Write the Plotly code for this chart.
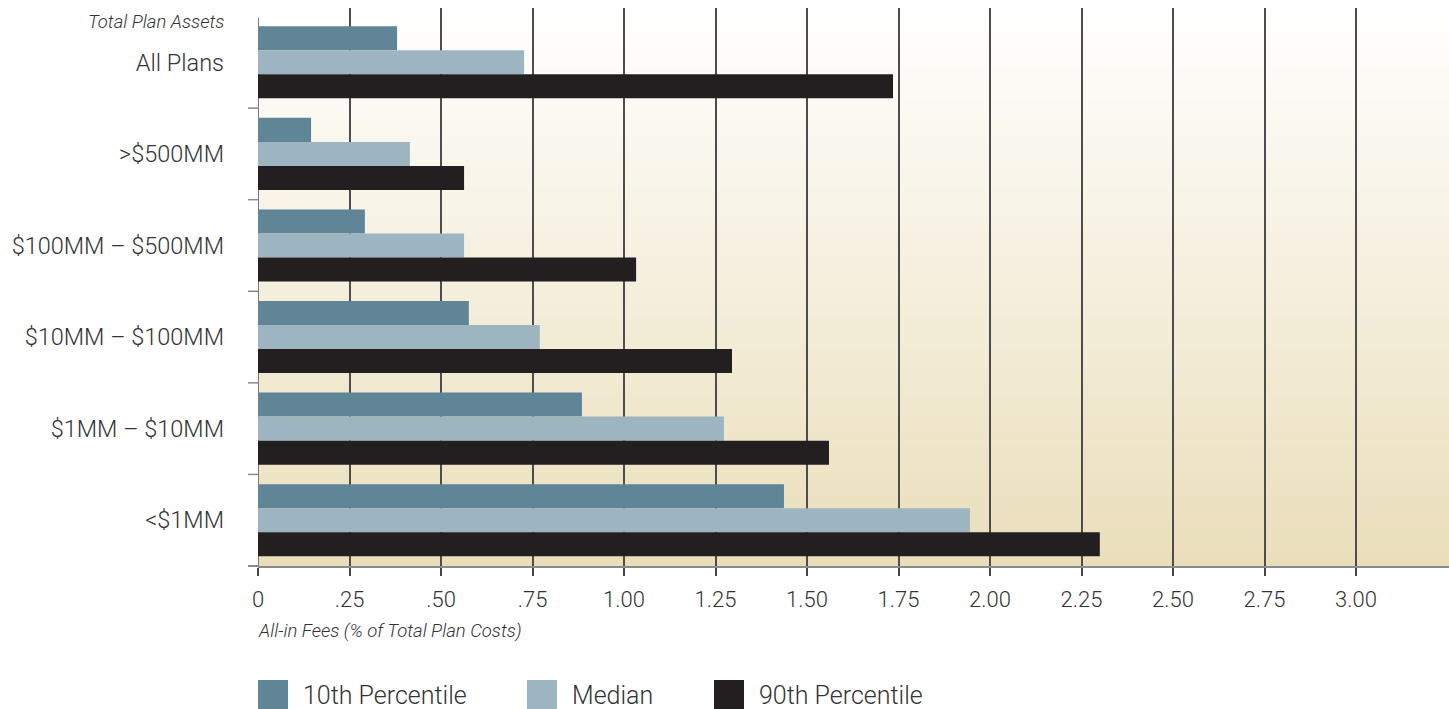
import plotly.graph_objects as go

# Plan-size groups (top to bottom) and fee percentiles (% of total plan costs)
categories = ["All Plans", ">$500MM", "$100MM – $500MM", "$10MM – $100MM", "$1MM – $10MM", "<$1MM"]
series_names = ["10th Percentile", "Median", "90th Percentile"]
p10 = [0.38, 0.145, 0.292, 0.576, 0.885, 1.437]
median = [0.727, 0.415, 0.563, 0.77, 1.273, 1.945]
p90 = [1.735, 0.563, 1.033, 1.295, 1.56, 2.30]
tick_vals = [0, 0.25, 0.5, 0.75, 1.0, 1.25, 1.5, 1.75, 2.0, 2.25, 2.5, 2.75, 3.0]
tick_text = ["0", ".25", ".50", ".75", "1.00", "1.25", "1.50", "1.75", "2.00", "2.25", "2.50", "2.75", "3.00"]

colors = ["#5f8597", "#9db5c1", "#231f20"]
values = [p10, median, p90]

FONT = "Roboto"
TEXT = "#333333"

W, H = 1449, 709
ML, MR, MT, MB = 258, 0, 8, 143
plot_w = W - ML - MR
plot_h = H - MT - MB

fig = go.Figure()
for name, vals, col in zip(series_names, values, colors):
    fig.add_trace(go.Bar(
        y=categories, x=vals, name=name, orientation="h",
        marker=dict(color=col, line=dict(width=0)),
        showlegend=False,
    ))

# vertical gradient background of the plotting area: white at top, sand at bottom
shapes = []
n_steps = 140
top_rgb = (255, 255, 255)
bot_rgb = (234, 222, 186)
for i in range(n_steps):
    f = (i + 0.5) / n_steps
    c = tuple(round(top_rgb[k] + (bot_rgb[k] - top_rgb[k]) * f) for k in range(3))
    shapes.append(dict(
        type="rect", xref="x domain", yref="y domain",
        x0=0, x1=1, y0=1 - (i + 1) / n_steps, y1=1 - i / n_steps + 0.002,
        fillcolor="rgb(%d,%d,%d)" % c, line=dict(width=0), layer="below",
    ))

# gridline at zero, starting just above the first group
shapes.append(dict(type="line", xref="x", yref="y domain",
                   x0=0, x1=0, y0=0, y1=1 - 10 / plot_h,
                   line=dict(color="#7a7a7a", width=2), layer="below"))

# short extension of the baseline to the left of zero
shapes.append(dict(type="line", xref="paper", yref="y domain",
                   x0=-10 / plot_w, x1=0, y0=0, y1=0,
                   line=dict(color="#8a8a8a", width=2), layer="above"))

# tick marks between plan-size groups
for i in range(len(categories) - 1):
    shapes.append(dict(type="line", xref="paper", yref="y",
                       x0=-10 / plot_w, x1=0, y0=i + 0.5, y1=i + 0.5,
                       line=dict(color="#8a8a8a", width=1.5), layer="above"))

# legend: swatches and labels along the bottom edge
annotations = []
legend_x = [258, 527, 714]
for lx, name, col in zip(legend_x, series_names, colors):
    x0 = (lx - ML) / plot_w
    x1 = (lx + 30 - ML) / plot_w
    y_top = -(680 - (H - MB)) / plot_h
    y_bot = -(710 - (H - MB)) / plot_h
    shapes.append(dict(type="rect", xref="paper", yref="paper",
                       x0=x0, x1=x1, y0=y_bot, y1=y_top,
                       fillcolor=col, line=dict(width=0)))
    annotations.append(dict(
        text=name, xref="paper", yref="paper",
        x=(lx + 43 - ML) / plot_w, y=-(695 - (H - MB)) / plot_h,
        xanchor="left", yanchor="middle", showarrow=False,
        font=dict(family=FONT, size=25, color=TEXT, weight=300),
    ))

annotations.append(dict(
    text="<i>Total Plan Assets</i>", xref="paper", yref="paper",
    x=(226 - ML) / plot_w, y=1 - (22 - MT) / plot_h,
    xanchor="right", yanchor="middle", showarrow=False,
    font=dict(family=FONT, size=18.5, color=TEXT, weight=300),
))
annotations.append(dict(
    text="<i>All-in Fees (% of Total Plan Costs)</i>", xref="paper", yref="paper",
    x=-2 / plot_w, y=-(631 - (H - MB)) / plot_h,
    xanchor="left", yanchor="middle", showarrow=False,
    font=dict(family=FONT, size=18.5, color=TEXT, weight=300),
))

x_max = 3.254
fig.update_layout(
    width=W, height=H,
    margin=dict(l=ML, r=MR, t=MT, b=MB, pad=0),
    paper_bgcolor="white", plot_bgcolor="rgba(0,0,0,0)",
    barmode="group", bargap=0.213, bargroupgap=0,
    shapes=shapes, annotations=annotations,
    font=dict(family=FONT, color=TEXT),
    xaxis=dict(
        range=[0, x_max], tickvals=tick_vals, ticktext=tick_text,
        showgrid=True, gridcolor="#4d4d4d", gridwidth=1.5,
        zeroline=False, showline=True, linecolor="#8a8a8a", linewidth=2,
        ticks="outside", ticklen=8, tickwidth=1.5, tickcolor="#444444",
        tickfont=dict(family=FONT, size=22, color=TEXT, weight=300),
        ticklabelstandoff=5,
    ),
    yaxis=dict(
        categoryorder="array", categoryarray=categories,
        range=[5.5, -0.593],
        showgrid=False, zeroline=False, showline=False,
        ticks="", 
        tickfont=dict(family=FONT, size=23.5, color=TEXT, weight=300),
        ticklabelstandoff=33,
    ),
)

fig.write_html("out.html")
